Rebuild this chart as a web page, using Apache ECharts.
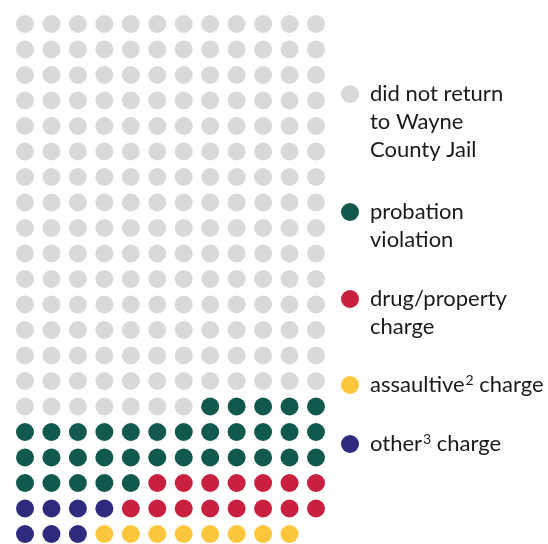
<!DOCTYPE html>
<html lang="en">
<head>
  <meta charset="UTF-8">
  <title>Waffle chart</title>
  <script src="https://cdn.jsdelivr.net/npm/echarts@6/dist/echarts.min.js"></script>
</head>
<body style="margin:0">
<div id="box" style="width: 548px;height: 544px;"></div>
<script>
  // categories, in legend order ({sup|..} = superscript footnote mark)
  var categories = ['did not return\nto Wayne\nCounty Jail', 'probation\nviolation', 'drug/property\ncharge', 'assaultive{sup|2} charge', 'other{sup|3} charge'];
  var codes = ['n', 'p', 'd', 'a', 'o'];
  var colors = ['#d9d9d9', '#12594d', '#c8203e', '#fdc63d', '#2e2b7e'];
  // one string per row of the waffle (top to bottom), one letter per person
  var waffleRows = [
    'nnnnnnnnnnnn', 'nnnnnnnnnnnn', 'nnnnnnnnnnnn', 'nnnnnnnnnnnn', 'nnnnnnnnnnnn',
    'nnnnnnnnnnnn', 'nnnnnnnnnnnn', 'nnnnnnnnnnnn', 'nnnnnnnnnnnn', 'nnnnnnnnnnnn',
    'nnnnnnnnnnnn', 'nnnnnnnnnnnn', 'nnnnnnnnnnnn', 'nnnnnnnnnnnn', 'nnnnnnnnnnnn',
    'nnnnnnnppppp',
    'pppppppppppp',
    'pppppppppppp',
    'pppppddddddd',
    'oooodddddddd',
    'oooaaaaaaaa'
  ];

  var myChart = echarts.init(document.getElementById('box'));

  // points per category: [column, row]
  var series = categories.map(function (name, i) {
    var pts = [];
    waffleRows.forEach(function (row, r) {
      for (var c = 0; c < row.length; c++) {
        if (row[c] === codes[i]) pts.push([c, r]);
      }
    });
    return {
      name: name,
      type: 'scatter',
      symbol: 'circle',
      symbolSize: 18,
      itemStyle: {color: colors[i], opacity: 1},
      emphasis: {disabled: true},
      data: pts
    };
  });

  // legend drawn by hand so the dot sits on the first text line
  var legendTop = [94, 212, 299, 385, 444];
  var legendItems = [];
  categories.forEach(function (name, i) {
    legendItems.push({
      type: 'circle',
      shape: {cx: 350, cy: legendTop[i], r: 9},
      style: {fill: colors[i]}
    });
    legendItems.push({
      type: 'text',
      x: 370,
      y: legendTop[i] - 14,
      style: {
        text: name,
        fill: '#1a1a1a',
        font: '22px Lato',
        lineHeight: 28,
        verticalAlign: 'top',
        rich: {
          sup: {fontSize: 14, fontFamily: 'Lato', fill: '#1a1a1a', verticalAlign: 'top', lineHeight: 14, padding: [2, 0, 0, 1]}
        }
      }
    });
  });

  var option = {
    animation: false,
    grid: {left: 25, right: 232, top: 24, bottom: 10},
    xAxis: {type: 'value', min: 0, max: 11, show: false},
    yAxis: {type: 'value', min: 0, max: 20, inverse: true, show: false},
    graphic: legendItems,
    series: series
  };
  myChart.setOption(option);
</script>
</body>
</html>
